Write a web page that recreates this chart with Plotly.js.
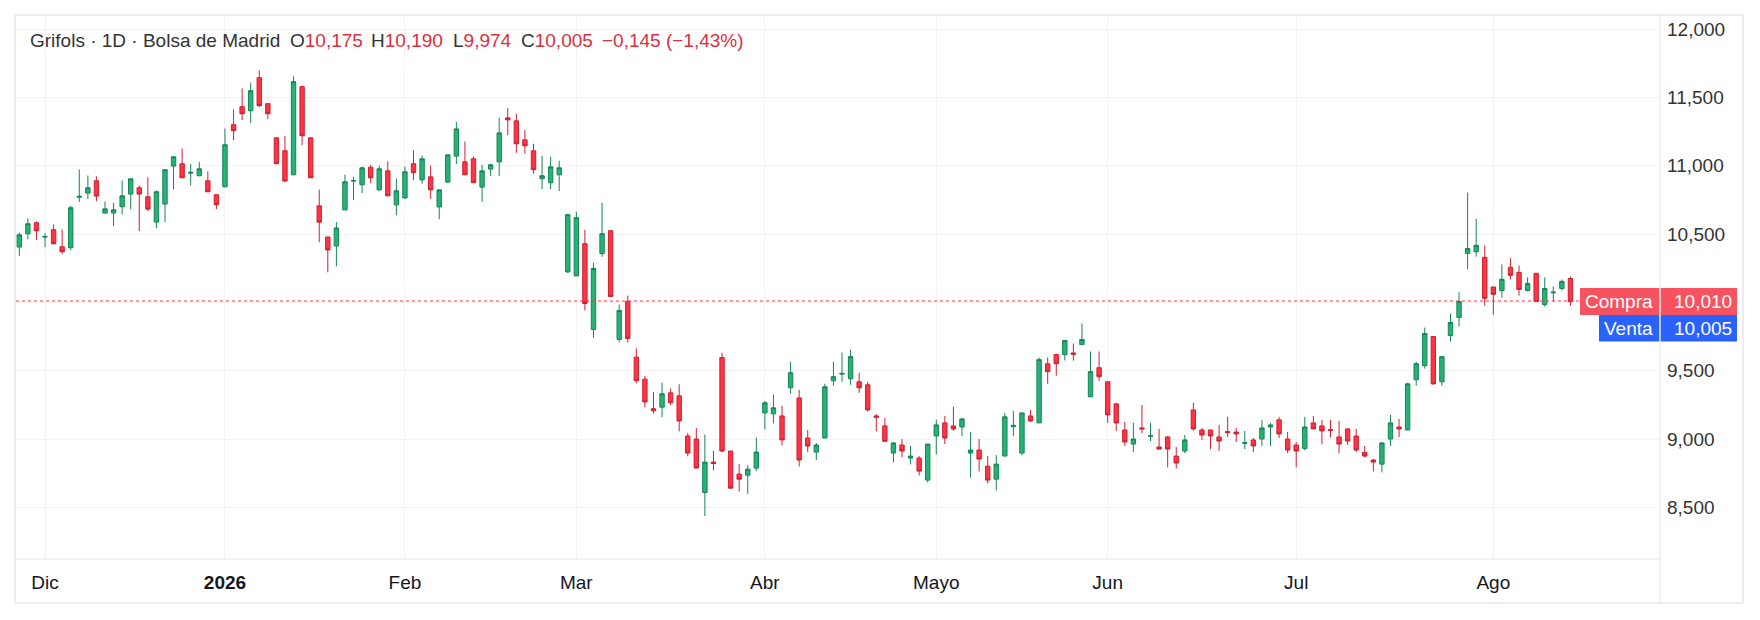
<!DOCTYPE html>
<html>
<head>
<meta charset="utf-8">
<script src="https://cdn.plot.ly/plotly-3.0.1.min.js"></script>
<style>
  html, body { margin: 0; padding: 0; background: #ffffff; }
  #chart { width: 1760px; height: 620px; }
</style>
</head>
<body>
<div id="chart"></div>
<script>
// ---- Data (Grifols, 1D, Bolsa de Madrid) ----
const dates = [
  "2025-11-26","2025-11-27","2025-11-28",
  "2025-12-01","2025-12-02","2025-12-03","2025-12-04","2025-12-05",
  "2025-12-08","2025-12-09","2025-12-10","2025-12-11","2025-12-12",
  "2025-12-15","2025-12-16","2025-12-17","2025-12-18","2025-12-19",
  "2025-12-22","2025-12-23","2025-12-24","2025-12-29","2025-12-30","2025-12-31",
  "2026-01-02","2026-01-05","2026-01-06","2026-01-07","2026-01-08","2026-01-09",
  "2026-01-12","2026-01-13","2026-01-14","2026-01-15","2026-01-16",
  "2026-01-19","2026-01-20","2026-01-21","2026-01-22","2026-01-23",
  "2026-01-26","2026-01-27","2026-01-28","2026-01-29","2026-01-30",
  "2026-02-02","2026-02-03","2026-02-04","2026-02-05","2026-02-06",
  "2026-02-09","2026-02-10","2026-02-11","2026-02-12","2026-02-13",
  "2026-02-16","2026-02-17","2026-02-18","2026-02-19","2026-02-20",
  "2026-02-23","2026-02-24","2026-02-25","2026-02-26","2026-02-27",
  "2026-03-02","2026-03-03","2026-03-04","2026-03-05","2026-03-06",
  "2026-03-09","2026-03-10","2026-03-11","2026-03-12","2026-03-13",
  "2026-03-16","2026-03-17","2026-03-18","2026-03-19","2026-03-20",
  "2026-03-23","2026-03-24","2026-03-25","2026-03-26","2026-03-27",
  "2026-03-30","2026-03-31",
  "2026-04-01","2026-04-02","2026-04-07","2026-04-08","2026-04-09","2026-04-10",
  "2026-04-13","2026-04-14","2026-04-15","2026-04-16","2026-04-17",
  "2026-04-20","2026-04-21","2026-04-22","2026-04-23","2026-04-24",
  "2026-04-27","2026-04-28","2026-04-29","2026-04-30",
  "2026-05-04","2026-05-05","2026-05-06","2026-05-07","2026-05-08",
  "2026-05-11","2026-05-12","2026-05-13","2026-05-14","2026-05-15",
  "2026-05-18","2026-05-19","2026-05-20","2026-05-21","2026-05-22",
  "2026-05-25","2026-05-26","2026-05-27","2026-05-28","2026-05-29",
  "2026-06-01","2026-06-02","2026-06-03","2026-06-04","2026-06-05",
  "2026-06-08","2026-06-09","2026-06-10","2026-06-11","2026-06-12",
  "2026-06-15","2026-06-16","2026-06-17","2026-06-18","2026-06-19",
  "2026-06-22","2026-06-23","2026-06-24","2026-06-25","2026-06-26",
  "2026-06-29","2026-06-30",
  "2026-07-01","2026-07-02","2026-07-03",
  "2026-07-06","2026-07-07","2026-07-08","2026-07-09","2026-07-10",
  "2026-07-13","2026-07-14","2026-07-15","2026-07-16","2026-07-17",
  "2026-07-20","2026-07-21","2026-07-22","2026-07-23","2026-07-24",
  "2026-07-27","2026-07-28","2026-07-29","2026-07-30","2026-07-31",
  "2026-08-03","2026-08-04","2026-08-05","2026-08-06","2026-08-07",
  "2026-08-10","2026-08-11","2026-08-12","2026-08-13","2026-08-14"
];

const open = [
  10.405,10.502,10.583,10.478,10.532,10.407,10.400,10.770,10.800,10.890,
  10.654,10.654,10.700,10.793,10.839,10.773,10.588,10.720,10.998,11.015,
  10.946,10.927,10.890,10.788,10.846,11.301,11.433,11.403,11.645,11.455,
  11.205,11.110,10.934,11.579,11.205,10.707,10.479,10.413,10.677,10.888,
  10.861,10.990,10.824,10.963,10.714,10.765,11.015,10.897,10.919,10.699,
  10.881,11.071,11.029,11.051,10.844,10.976,11.029,11.351,11.329,11.190,
  11.110,10.905,10.876,10.934,10.223,10.194,10.430,9.802,10.357,10.525,
  9.729,10.007,9.599,9.438,9.222,9.233,9.338,9.316,9.022,9.000,
  8.608,8.831,9.596,8.912,8.743,8.735,8.787,9.191,9.184,9.169,
  9.375,9.301,9.007,8.904,9.007,9.426,9.475,9.441,9.419,9.397,
  9.169,9.096,8.897,8.956,8.860,8.860,8.699,9.022,9.118,9.096,
  9.088,8.897,8.919,8.801,8.706,8.875,9.091,8.897,9.169,9.118,
  9.551,9.618,9.618,9.630,9.691,9.309,9.522,9.419,9.257,9.066,
  8.963,9.081,9.020,8.941,9.015,8.875,8.912,9.213,9.066,9.066,
  9.015,9.054,9.051,8.968,8.993,9.000,9.088,9.140,9.000,8.956,
  8.931,9.118,9.096,9.069,9.015,9.074,9.022,8.902,8.846,8.816,
  9.000,9.088,9.066,9.434,9.537,9.750,9.419,9.757,9.890,10.359,
  10.371,10.330,10.113,10.086,10.257,10.220,10.087,10.213,9.984,10.070,
  10.102,10.175
];
const high = [
  10.510,10.615,10.593,10.507,10.571,10.534,10.707,10.973,10.929,10.922,
  10.739,10.729,10.893,10.905,10.856,10.915,10.820,10.971,11.066,11.127,
  11.015,11.029,10.959,10.788,11.273,11.413,11.567,11.609,11.699,11.455,
  11.205,11.220,11.655,11.589,11.205,10.826,10.479,10.589,10.934,10.919,
  10.995,11.007,11.000,11.032,10.907,10.995,11.112,11.076,11.002,10.824,
  11.080,11.321,11.178,11.066,11.007,11.015,11.351,11.424,11.380,11.263,
  11.161,11.073,11.066,11.037,10.649,10.664,10.532,10.291,10.730,10.525,
  9.985,10.050,9.664,9.462,9.344,9.414,9.370,9.400,9.044,9.081,
  9.032,8.914,9.632,8.912,8.816,8.809,9.010,9.277,9.326,9.243,
  9.566,9.360,9.066,8.971,9.404,9.566,9.632,9.654,9.485,9.419,
  9.184,9.154,8.978,9.000,8.949,8.875,8.963,9.142,9.169,9.235,
  9.154,9.051,9.000,8.875,8.882,9.191,9.206,9.191,9.213,9.596,
  9.596,9.625,9.721,9.699,9.845,9.640,9.640,9.419,9.265,9.125,
  9.118,9.250,9.118,9.074,9.022,8.941,9.029,9.265,9.081,9.066,
  9.103,9.162,9.081,9.059,9.007,9.140,9.118,9.162,9.051,8.978,
  9.162,9.169,9.140,9.140,9.132,9.074,9.074,8.949,8.853,8.978,
  9.176,9.147,9.412,9.566,9.816,9.750,9.603,9.919,10.074,10.804,
  10.611,10.418,10.113,10.278,10.323,10.271,10.183,10.213,10.183,10.117,
  10.168,10.190
];
const low = [
  10.339,10.463,10.456,10.405,10.425,10.354,10.383,10.734,10.756,10.741,
  10.650,10.559,10.644,10.680,10.522,10.668,10.544,10.588,10.829,10.912,
  10.856,10.927,10.810,10.683,10.846,11.188,11.335,11.313,11.430,11.342,
  11.015,10.880,10.934,11.152,10.912,10.440,10.220,10.264,10.677,10.748,
  10.800,10.873,10.817,10.780,10.638,10.758,10.897,10.868,10.758,10.609,
  10.873,11.012,10.934,10.876,10.735,10.925,10.925,11.224,11.095,11.088,
  10.942,10.830,10.830,10.815,10.216,10.194,9.941,9.741,10.333,10.043,
  9.707,9.707,9.407,9.231,9.185,9.159,9.248,9.056,8.873,8.787,
  8.436,8.770,8.902,8.640,8.615,8.598,8.765,9.071,9.115,8.953,
  9.331,8.799,8.904,8.846,9.007,9.390,9.419,9.397,9.338,9.199,
  9.056,8.983,8.828,8.865,8.814,8.733,8.681,8.887,8.963,9.059,
  9.022,8.718,8.762,8.674,8.623,8.875,9.022,8.882,9.125,9.118,
  9.404,9.463,9.574,9.574,9.691,9.309,9.424,9.118,9.059,8.949,
  8.904,9.044,8.985,8.926,8.792,8.784,8.897,9.059,8.993,8.926,
  8.912,9.015,8.978,8.926,8.904,8.949,8.949,9.007,8.897,8.792,
  8.917,9.074,8.961,9.012,8.895,8.956,8.904,8.865,8.762,8.755,
  8.949,9.015,9.066,9.390,9.515,9.397,9.390,9.713,9.824,10.242,
  10.335,9.976,9.910,10.035,10.168,10.050,10.080,10.006,9.969,10.006,
  10.087,9.974
];
const close = [
  10.495,10.576,10.524,10.482,10.429,10.371,10.693,10.776,10.839,10.778,
  10.685,10.678,10.780,10.905,10.793,10.683,10.810,10.971,11.066,10.912,
  10.952,10.978,10.810,10.715,11.154,11.257,11.381,11.550,11.440,11.381,
  11.015,10.888,11.616,11.220,10.912,10.587,10.384,10.545,10.883,10.892,
  10.985,10.912,10.978,10.780,10.817,10.956,10.949,11.051,10.824,10.824,
  11.080,11.270,10.934,10.876,10.963,11.007,11.241,11.336,11.161,11.146,
  10.971,10.927,10.993,10.985,10.642,10.620,9.992,10.248,10.503,10.043,
  9.941,9.736,9.426,9.271,9.207,9.331,9.265,9.132,8.897,8.787,
  8.831,8.821,8.912,8.640,8.706,8.779,8.904,9.265,9.228,8.993,
  9.485,8.846,8.949,8.956,9.382,9.456,9.480,9.603,9.375,9.213,
  9.159,8.983,8.971,8.912,8.875,8.765,8.963,9.103,9.007,9.074,
  9.147,8.919,8.853,8.699,8.816,9.162,9.100,9.191,9.132,9.581,
  9.493,9.551,9.721,9.620,9.728,9.493,9.456,9.176,9.118,8.978,
  9.000,9.074,9.025,8.926,8.926,8.824,8.993,9.074,9.029,9.022,
  8.985,9.047,9.037,8.973,8.949,9.081,9.103,9.037,8.919,8.912,
  9.088,9.074,9.059,9.064,8.963,8.985,8.919,8.875,8.831,8.971,
  9.118,9.074,9.404,9.551,9.772,9.404,9.603,9.853,10.007,10.395,
  10.418,10.030,10.059,10.169,10.198,10.095,10.139,10.006,10.102,10.075,
  10.154,10.005
];

const monthTickDates = ["2025-12-01","2026-01-02","2026-02-02","2026-03-02","2026-04-01","2026-05-04","2026-06-01","2026-07-01","2026-08-03"];
const monthTickLabels = ["Dic","<b>2026</b>","Feb","Mar","Abr","Mayo","Jun","Jul","Ago"];
const priceTicks = [8.5, 9.0, 9.5, 10.0, 10.5, 11.0, 11.5, 12.0];
const hiddenPriceTicks = [10.0];

const headerName = "Grifols · 1D · Bolsa de Madrid";
const lastOpen = "10,175", lastHigh = "10,190", lastLow = "9,974", lastClose = "10,005";
const lastChange = "−0,145 (−1,43%)";
const bidLabel = "Compra", bidPrice = 10.010;
const askLabel = "Venta", askPrice = 10.005;

// ---- Layout geometry (pixels) ----
const W = 1760, H = 620;
const L = 16, R = 1660, T = 16, B = 559;
const px = p => (p - L) / (R - L);
const py = p => (B - p) / (B - T);
const FONT = "Liberation Sans, Arial, sans-serif";
const RED = "#d9303e";
const fmt = v => v.toFixed(3).replace(".", ",");

const trace = {
  type: "candlestick",
  x: dates, open: open, high: high, low: low, close: close,
  increasing: { line: { color: "#168456", width: 1 }, fillcolor: "#27b376" },
  decreasing: { line: { color: "#cc2233", width: 1 }, fillcolor: "#fe3443" },
  whiskerwidth: 0,
  hoverinfo: "skip",
  showlegend: false
};

const ann = (x, y, text, opts) => Object.assign({
  xref: "paper", yref: "paper", x: px(x), y: py(y), text: text,
  showarrow: false, xanchor: "left", yanchor: "middle",
  font: { family: FONT, size: 19, color: "#333333" }
}, opts || {});

const annotations = [
  ann(28, 40.5, headerName),
  ann(287.6, 40.5, "O<span style='color:" + RED + "'>" + lastOpen + "</span>"),
  ann(369, 40.5, "H<span style='color:" + RED + "'>" + lastHigh + "</span>"),
  ann(450.5, 40.5, "L<span style='color:" + RED + "'>" + lastLow + "</span>"),
  ann(518.5, 40.5, "C<span style='color:" + RED + "'>" + lastClose + "</span>"),
  ann(599.5, 40.5, lastChange, { font: { family: FONT, size: 19, color: RED } }),
  ann(1619, 301.5, bidLabel, { xanchor: "center", font: { family: FONT, size: 19, color: "#ffffff" } }),
  ann(1672, 301.5, fmt(bidPrice), { font: { family: FONT, size: 19, color: "#ffffff" } }),
  ann(1628, 328, askLabel, { xanchor: "center", font: { family: FONT, size: 19, color: "#ffffff" } }),
  ann(1672, 328, fmt(askPrice), { font: { family: FONT, size: 19, color: "#ffffff" } })
];

const frame = "#e6e6e6";
const shapes = [
  // bid price dotted line
  { type: "line", xref: "paper", yref: "y", x0: 0, x1: px(1580), y0: bidPrice, y1: bidPrice,
    line: { color: "#f23645", width: 1, dash: "dot" } },
  // Compra / Venta boxes
  { type: "rect", xref: "paper", yref: "paper", x0: px(1580), x1: px(1737), y0: py(315), y1: py(288),
    fillcolor: "#f7525f", line: { width: 0 }, layer: "above" },
  { type: "rect", xref: "paper", yref: "paper", x0: px(1599), x1: px(1737), y0: py(341.5), y1: py(315),
    fillcolor: "#2962ff", line: { width: 0 }, layer: "above" },
  { type: "line", xref: "paper", yref: "paper", x0: px(1660), x1: px(1660), y0: py(341.5), y1: py(288),
    line: { color: "#ffffff", width: 1 }, layer: "above" },
  // frame
  { type: "line", xref: "paper", yref: "paper", x0: px(15), x1: px(1743), y0: py(15), y1: py(15), line: { color: "#ececec", width: 2 } },
  { type: "line", xref: "paper", yref: "paper", x0: px(15), x1: px(1743), y0: py(603), y1: py(603), line: { color: "#ececec", width: 2 } },
  { type: "line", xref: "paper", yref: "paper", x0: px(15), x1: px(15), y0: py(603), y1: py(15), line: { color: "#ececec", width: 2 } },
  { type: "line", xref: "paper", yref: "paper", x0: px(1743), x1: px(1743), y0: py(603), y1: py(15), line: { color: "#ececec", width: 2 } },
  { type: "line", xref: "paper", yref: "paper", x0: px(15), x1: px(1660), y0: py(559), y1: py(559), line: { color: frame, width: 1 } },
  { type: "line", xref: "paper", yref: "paper", x0: px(1660), x1: px(1660), y0: py(603), y1: py(15), line: { color: frame, width: 1 } }
];

const layout = {
  width: W, height: H,
  margin: { l: L, r: W - R, t: T, b: H - B, pad: 0 },
  paper_bgcolor: "#ffffff", plot_bgcolor: "#ffffff",
  separators: ",.",
  boxgap: 0.27,
  showlegend: false,
  xaxis: {
    type: "category",
    range: [-0.385, 191.45],
    tickvals: monthTickDates, ticktext: monthTickLabels,
    tickfont: { family: FONT, size: 19, color: "#131722" },
    ticks: "", showgrid: true, gridcolor: "#f3f3f3", gridwidth: 1,
    showline: false, zeroline: false, fixedrange: true,
    ticklabelstandoff: 10,
    rangeslider: { visible: false }
  },
  yaxis: {
    side: "right",
    range: [8.1215, 12.0966],
    tickvals: priceTicks,
    ticktext: priceTicks.map(v => hiddenPriceTicks.includes(v) ? "" : fmt(v)),
    tickfont: { family: FONT, size: 19, color: "#333333" },
    ticks: "", showgrid: true, gridcolor: "#f3f3f3", gridwidth: 1,
    showline: false, zeroline: false, fixedrange: true,
    ticklabelstandoff: 6
  },
  annotations: annotations,
  shapes: shapes
};

Plotly.newPlot("chart", [trace], layout, { staticPlot: true, displayModeBar: false });
</script>
</body>
</html>
